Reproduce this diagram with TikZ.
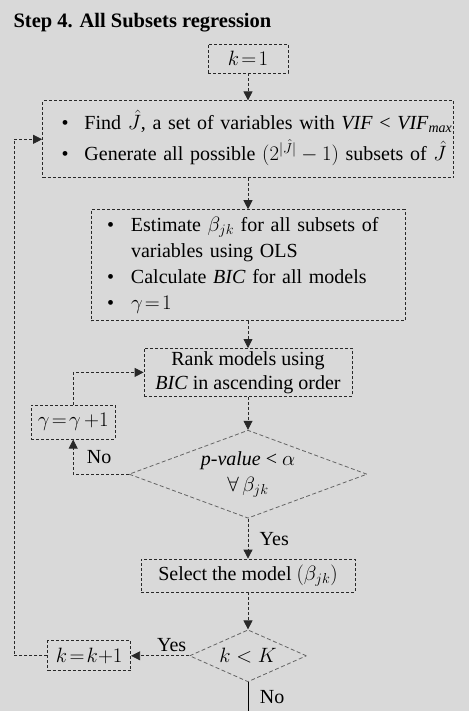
\documentclass[tikz,border=0pt]{standalone}
\usepackage{fontspec}
\setmainfont{Liberation Serif}
\usetikzlibrary{arrows.meta, positioning, shapes.geometric}
\definecolor{panel}{RGB}{217,217,217}
\definecolor{edge}{RGB}{40,40,40}
\definecolor{diaedge}{RGB}{100,100,100}

\begin{document}
\begin{tikzpicture}[
    x=1pt, y=-1pt,
    every node/.style={font=\fontsize{20}{26}\selectfont},
    base/.style={rectangle, draw=edge, dash pattern=on 3pt off 2pt, line width=0.8pt, inner sep=2pt, align=center},
    listbox/.style={base, align=left},
    test/.style={diamond, draw=diaedge, dash pattern=on 4pt off 2.5pt, line width=0.8pt, inner sep=0pt, align=center},
    arrow/.style={-{Triangle[length=9pt, width=9pt]}, draw=edge, line width=0.8pt, dash pattern=on 3pt off 2pt},
    tag/.style={font=\fontsize{20}{24}\selectfont}
]
    \useasboundingbox (0,0) rectangle (469,711);
    \fill[panel] (0,0) rectangle (469,711);

    % --- Title ---
    \node[anchor=base west, font=\fontsize{20.5}{24}\selectfont\bfseries] (title) at (10,28) {Step 4. All Subsets regression};

    % --- Main column ---
    \node[base, minimum width=80pt, minimum height=29pt] (kone) at (248,58.5) {$k\!=\!1$};
    \node[listbox, below=27pt of kone, minimum height=77pt, text width=373pt, inner xsep=19pt] (find) {%
        \begin{tabular}{@{}p{23pt}@{}l@{}}
        \textbullet & Find $\hat{J}$, a set of variables with \textit{VIF} < \textit{VIF}\textsubscript{\textit{max}}\\[2pt]
        \textbullet & Generate all possible $\bigl(2^{|\hat{J}|}-1\bigr)$ subsets of $\hat{J}$
        \end{tabular}};
    \node[listbox, below=31pt of find, minimum height=111pt, text width=282pt, inner xsep=16pt] (est) {%
        \begin{tabular}{@{}p{24pt}@{}l@{}}
        \textbullet & Estimate $\beta_{jk}$ for all subsets of\\
         & variables using OLS\\
        \textbullet & Calculate \textit{BIC} for all models\\
        \textbullet & $\gamma\!=\!1$
        \end{tabular}};
    \node[base, below=27pt of est, minimum width=208pt, minimum height=48pt, inner sep=1pt, font=\fontsize{20}{24}\selectfont] (rank) {Rank models using\\\textit{BIC} in ascending order};
    \node[test, below=33pt of rank, minimum width=238pt, minimum height=88pt, aspect=2.7] (pcheck) {\textit{p-value} < $\alpha$\\$\forall\,\beta_{jk}$};
    \node[base, below=40pt of pcheck, minimum width=214pt, minimum height=33pt] (pick) {Select the model $(\beta_{jk})$};
    \node[test, below=37pt of pick, minimum width=117pt, minimum height=52pt, aspect=2.25] (kcheck) {$k<K$};

    % --- Side boxes ---
    \node[base, below left=8pt and 28pt of rank, minimum width=84pt, minimum height=34pt] (gam) {$\gamma\!=\!\gamma\,{+}1$};
    \node[base, left=58pt of kcheck, minimum width=83pt, minimum height=30pt] (kinc) {$k\!=\!k{+}1$};

    \coordinate (lft) at ([xshift=-28pt]find.west);
    \coordinate (fin) at ([yshift=-34pt]kcheck.south);

    % --- Connections ---
    \draw[arrow] (kone.south) -- (find.north);
    \draw[arrow] (find.south) -- (est.north);
    \draw[arrow] (est.south) -- (rank.north);
    \draw[arrow] (rank.south) -- (pcheck.north);

    \draw[arrow] (pcheck.west) -| node[tag, pos=0.75, right=10pt] {No} (gam.south);
    \draw[arrow] (gam.north) |- (rank.west);

    \draw[arrow] (pcheck.south) -- node[tag, right=8pt] {Yes} (pick.north);
    \draw[arrow] (pick.south) -- (kcheck.north);

    \draw[arrow] (kcheck.west) -- node[tag, above, pos=0.3] {Yes} (kinc.east);
    \draw[arrow] (kinc.west) -| (lft) -- (find.west);

    \draw[line width=1pt, draw=black] (kcheck.south) -- node[tag, right=8pt, pos=0.45] {No} (fin);

\end{tikzpicture}
\end{document}
